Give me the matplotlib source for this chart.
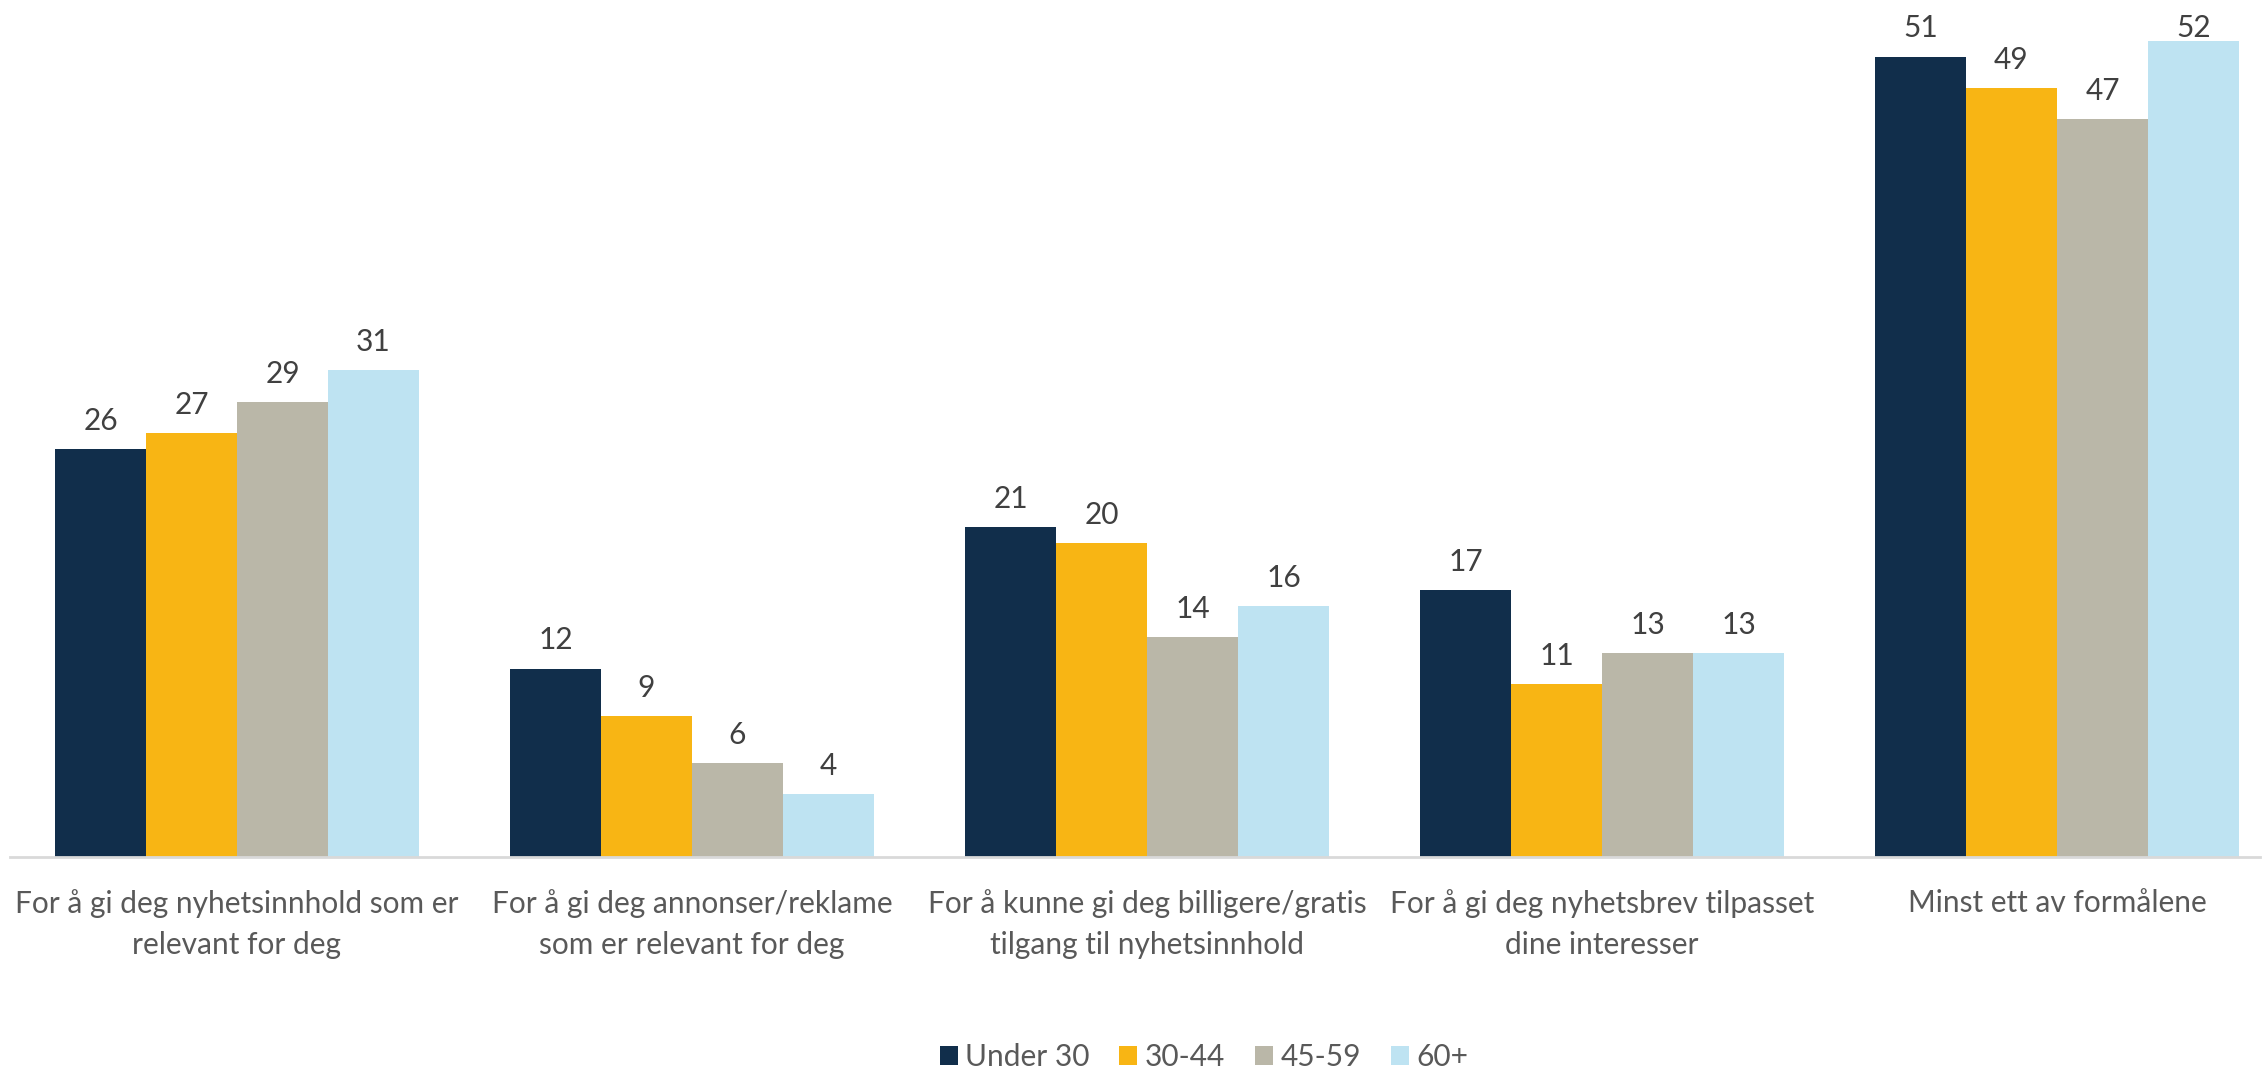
import numpy as np
import matplotlib.pyplot as plt

categories = ['For å gi deg nyhetsinnhold som er\nrelevant for deg',
              'For å gi deg annonser/reklame\nsom er relevant for deg',
              'For å kunne gi deg billigere/gratis\ntilgang til nyhetsinnhold',
              'For å gi deg nyhetsbrev tilpasset\ndine interesser',
              'Minst ett av formålene']
groups = ['Under 30', '30-44', '45-59', '60+']
under30 = [26, 12, 21, 17, 51]
age30_44 = [27, 9, 20, 11, 49]
age45_59 = [29, 6, 14, 13, 47]
age60 = [31, 4, 16, 13, 52]
series = [under30, age30_44, age45_59, age60]
colors = ['#112E4B', '#F8B514', '#BAB7A8', '#BEE3F2']

plt.rcParams['font.family'] = ['Lato', 'DejaVu Sans']

fig = plt.figure(figsize=(22.63, 10.68), dpi=100)
# one category = 455 px, axes runs from x=9.5 px to 2259 px
ax = fig.add_axes([9.5 / 2263, 0.1976, 2250 / 2263, 0.8024])

x = np.arange(len(categories))
w = 0.2
ymax = 54.6
for i, (vals, c, lab) in enumerate(zip(series, colors, groups)):
    pos = x + (i - 1.5) * w
    ax.bar(pos, vals, w, color=c, label=lab)
    for xp, v in zip(pos, vals):
        # labels near the top are pushed down to stay inside the plot
        ax.text(xp, min(v + 0.9, ymax - 2.7), str(v), ha='center', va='bottom',
                fontsize=21.5, color='#404040')

ax.set_xlim(-0.5, -0.5 + 2250 / 455)
ax.set_ylim(0, ymax)
ax.set_yticks([])
ax.set_xticks(x)
ax.set_xticklabels(categories, fontsize=21.5, color='#595959', linespacing=1.55)
ax.tick_params(axis='x', length=0, pad=23)
for s in ['top', 'right', 'left']:
    ax.spines[s].set_visible(False)
ax.spines['bottom'].set_color('#D9D9D9')
ax.spines['bottom'].set_linewidth(2)

fig.legend(loc='center', bbox_to_anchor=(0.532, 0.010), ncol=4, frameon=False,
           fontsize=21.5, labelcolor='#595959', handlelength=0.6, handleheight=0.6,
           handletextpad=0.25, columnspacing=1.0)

fig.savefig('out.png', dpi=100)
